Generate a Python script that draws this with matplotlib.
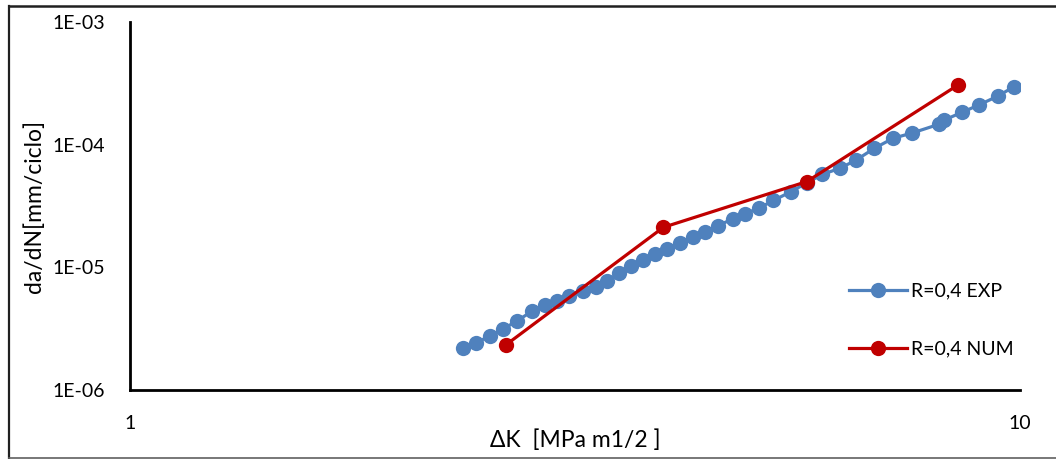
import matplotlib
matplotlib.use("Agg")
import matplotlib.pyplot as plt
from matplotlib.lines import Line2D

plt.rcParams['font.family'] = ['Lato', 'DejaVu Sans']

# Experimental crack growth rate, R = 0.4
dk_exp = [2.367, 2.446, 2.536, 2.626, 2.722, 2.827, 2.927, 3.020, 3.115, 3.230,
          3.335, 3.436, 3.546, 3.658, 3.774, 3.893, 4.016, 4.149, 4.288, 4.431,
          4.578, 4.759, 4.915, 5.096, 5.284, 5.526, 5.760, 5.993, 6.269, 6.534,
          6.860, 7.197, 7.566, 8.108, 8.207, 8.610, 8.993, 9.439, 9.838]
dadn_exp = [2.22e-6, 2.42e-6, 2.75e-6, 3.15e-6, 3.66e-6, 4.37e-6, 4.89e-6, 5.27e-6,
            5.83e-6, 6.36e-6, 6.88e-6, 7.78e-6, 8.93e-6, 1.026e-5, 1.148e-5,
            1.285e-5, 1.42e-5, 1.591e-5, 1.781e-5, 1.945e-5, 2.178e-5, 2.498e-5,
            2.745e-5, 3.056e-5, 3.507e-5, 4.13e-5, 4.875e-5, 5.72e-5, 6.40e-5,
            7.44e-5, 9.33e-5, 1.126e-4, 1.245e-4, 1.466e-4, 1.581e-4, 1.837e-4,
            2.109e-4, 2.484e-4, 2.959e-4]

# Numerical prediction, R = 0.4
dk_num = [2.644, 3.975, 5.760, 8.521]
dadn_num = [2.33e-6, 2.12e-5, 5.0e-5, 3.07e-4]

x_ticks = [1, 10]
x_tick_labels = ["1", "10"]
y_ticks = [1e-6, 1e-5, 1e-4, 1e-3]
y_tick_labels = ["1E-06", "1E-05", "1E-04", "1E-03"]

label_exp = "R=0,4 EXP"
label_num = "R=0,4 NUM"
x_label = "ΔK  [MPa m1/2 ]"
y_label = "da/dN[mm/ciclo]"

blue = "#4F81BD"
red = "#C00000"

W, H = 1056, 459
fig = plt.figure(figsize=(W / 100, H / 100), dpi=100)
ax = fig.add_axes([130 / W, 1 - 390 / H, (1020 - 130) / W, (390 - 22) / H])

ax.plot(dk_exp, dadn_exp, color=blue, lw=2.3, marker='o', ms=11,
        markeredgewidth=0, label=label_exp, zorder=3)
ax.plot(dk_num, dadn_num, color=red, lw=2.3, marker='o', ms=11,
        markeredgewidth=0, label=label_num, zorder=4)

ax.set_xscale('log')
ax.set_yscale('log')
ax.set_xlim(1, 10)
ax.set_ylim(1e-6, 1e-3)

ax.set_xticks(x_ticks)
ax.set_xticklabels(x_tick_labels)
ax.set_yticks(y_ticks)
ax.set_yticklabels(y_tick_labels)
ax.minorticks_off()
ax.tick_params(axis='both', length=0, labelsize=14, colors='black')
ax.tick_params(axis='x', pad=18)
ax.tick_params(axis='y', pad=18)

for side in ('top', 'right'):
    ax.spines[side].set_visible(False)
for side in ('left', 'bottom'):
    ax.spines[side].set_linewidth(2)
    ax.spines[side].set_color('black')

ax.set_xlabel(x_label, fontsize=16.5, va='center')
ax.xaxis.set_label_coords(0.5, -(440 - 390) / 368)
ax.set_ylabel(y_label, fontsize=16.5, va='center')
ax.yaxis.set_label_coords(-(130 - 34) / 890, 0.5)

leg = ax.legend(loc='center left',
                bbox_to_anchor=((849 - 130) / 890, 1 - (320 - 22) / 368),
                frameon=False, fontsize=14, handlelength=3.0, handletextpad=0.2,
                labelspacing=2.1, borderaxespad=0, borderpad=0)

# outer frame around the figure
fig.add_artist(Line2D([9 / W, 9 / W], [1 - 6 / H, 1 - 457.5 / H],
                      transform=fig.transFigure, color='#202020', lw=1.6))
fig.add_artist(Line2D([9 / W, 1.0], [1 - 6 / H, 1 - 6 / H],
                      transform=fig.transFigure, color='#202020', lw=1.8))
fig.add_artist(Line2D([9 / W, 1.0], [1 - 457.5 / H, 1 - 457.5 / H],
                      transform=fig.transFigure, color='#606060', lw=1.2))

fig.savefig("out.png", dpi=100)
